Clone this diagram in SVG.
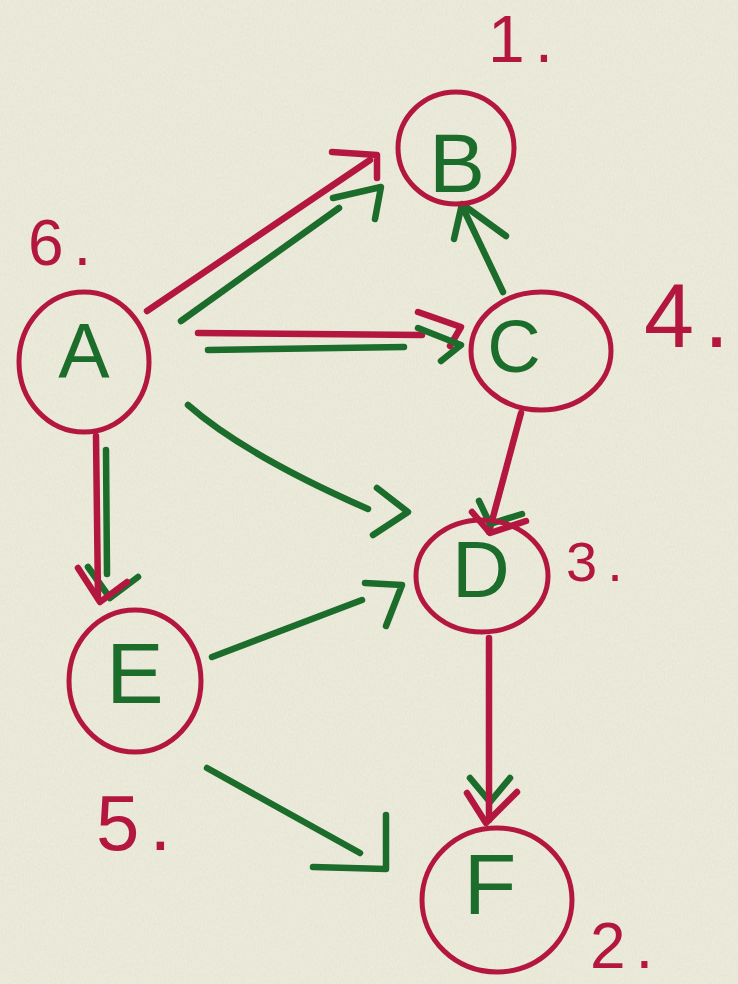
<svg xmlns="http://www.w3.org/2000/svg" width="738" height="984" viewBox="0 0 738 984">
  <defs>
    <filter id="paper" x="0" y="0" width="100%" height="100%">
      <feTurbulence type="fractalNoise" baseFrequency="0.9 0.35" numOctaves="3" seed="4" result="n"/>
      <feColorMatrix in="n" type="matrix" values="0 0 0 0 0.55  0 0 0 0 0.56  0 0 0 0 0.45  0 0 0 0.3 -0.05"/>
    </filter>
    <style>
      .ring { fill: none; stroke: #b3173f; stroke-width: 5; }
      .red { fill: none; stroke: #b3173f; stroke-width: 6.5; stroke-linecap: round; stroke-linejoin: round; }
      .grn { fill: none; stroke: #1c6c2b; stroke-width: 6.5; stroke-linecap: round; stroke-linejoin: round; }
      .letter { fill: #1c6c2b; font-family: "Liberation Sans", "DejaVu Sans", sans-serif; text-anchor: middle; }
      .num { fill: #b3173f; font-family: "Liberation Sans", "DejaVu Sans", sans-serif; letter-spacing: 10px; }
    </style>
  </defs>

  <!-- paper -->
  <rect width="738" height="984" fill="#eeeddd"/>
  <rect width="738" height="984" filter="url(#paper)"/>

  <!-- connectors -->
  <g id="connectors">
    <!-- A -> B -->
    <path class="red" d="M147 311 L370 160"/>
    <path class="red" d="M332 152 L377 155 L377 178"/>
    <path class="grn" d="M181 321 L339 208"/>
    <path class="grn" d="M333 198 L381 187 L375 219"/>
    <!-- C -> B -->
    <path class="grn" d="M503 292 L462 206"/>
    <path class="grn" d="M454 239 L462 204 L506 236"/>
    <!-- A -> C -->
    <path class="red" d="M198 333 L422 335"/>
    <path class="red" d="M418 312 L461 327 L450 346"/>
    <path class="grn" d="M208 350 L404 347"/>
    <path class="grn" d="M418 328 L461 345 L441 361"/>
    <!-- A -> D -->
    <path class="grn" d="M188 405 Q245 455 368 509"/>
    <path class="grn" d="M377 488 L408 512 L373 535"/>
    <!-- C -> D -->
    <path class="red" d="M521 413 L489 532"/>
    <path class="grn" d="M479 501 L490 524 L522 514"/>
    <path class="red" d="M472 512 L490 533 L526 521"/>
    <!-- A -> E -->
    <path class="grn" d="M106 450 L107 574"/>
    <path class="grn" d="M88 567 L110 598 L138 577"/>
    <path class="red" d="M96 436 L98 598"/>
    <path class="red" d="M78 568 L100 602 L127 582"/>
    <!-- E -> D -->
    <path class="grn" d="M212 657 L362 600"/>
    <path class="grn" d="M365 583 L402 585 L386 626"/>
    <!-- D -> F -->
    <path class="grn" d="M470 778 L490 802 L510 778"/>
    <path class="red" d="M489 638 L489 820"/>
    <path class="red" d="M467 793 L486 823 L517 792"/>
    <!-- E -> F -->
    <path class="grn" d="M207 768 L360 853"/>
    <path class="grn" d="M386 815 L386 869 L313 867"/>
  </g>

  <!-- nodes -->
  <g id="node-B">
    <ellipse class="ring" cx="456" cy="148" rx="58" ry="56"/>
    <text class="letter" x="457" y="192" font-size="84">B</text>
  </g>
  <g id="node-A">
    <ellipse class="ring" cx="84" cy="362" rx="65" ry="70"/>
    <text class="letter" x="84" y="378" font-size="77">A</text>
  </g>
  <g id="node-C">
    <ellipse class="ring" cx="541" cy="351" rx="70" ry="59"/>
    <text class="letter" x="514" y="372" font-size="74">C</text>
  </g>
  <g id="node-D">
    <ellipse class="ring" cx="482" cy="576" rx="66" ry="56"/>
    <text class="letter" x="481" y="597" font-size="80">D</text>
  </g>
  <g id="node-E">
    <ellipse class="ring" cx="135" cy="681" rx="66" ry="71"/>
    <text class="letter" x="135" y="703" font-size="86">E</text>
  </g>
  <g id="node-F">
    <ellipse class="ring" cx="497" cy="900" rx="75" ry="72"/>
    <text class="letter" x="490" y="914" font-size="86">F</text>
  </g>

  <!-- visiting order -->
  <g id="labels">
    <text class="num" x="488" y="62" font-size="66">1.</text>
    <text class="num" x="28" y="265" font-size="64">6.</text>
    <text class="num" x="644" y="347" font-size="90">4.</text>
    <text class="num" x="566" y="581" font-size="56">3.</text>
    <text class="num" x="96" y="850" font-size="78">5.</text>
    <text class="num" x="590" y="968" font-size="64">2.</text>
  </g>
</svg>
